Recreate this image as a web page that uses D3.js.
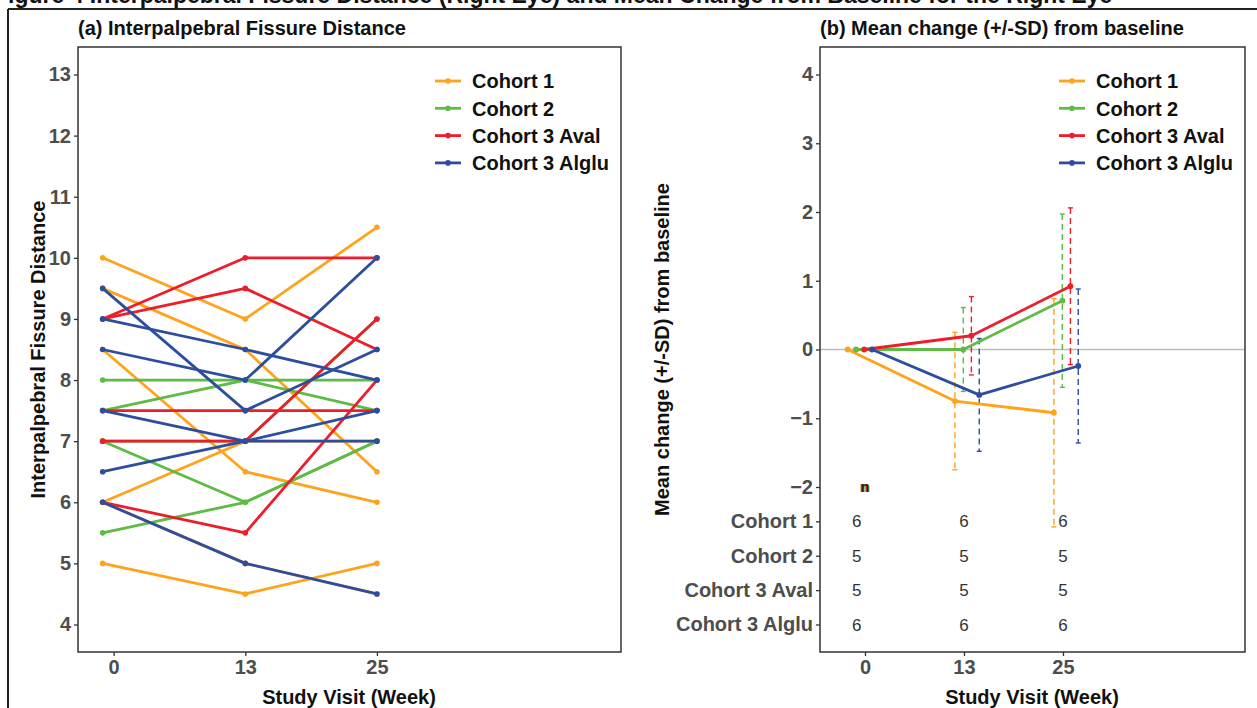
<!DOCTYPE html>
<html>
<head>
<meta charset="utf-8">
<script src="https://cdn.jsdelivr.net/npm/d3@7"></script>
<style>
  html, body { margin: 0; padding: 0; background: #fff; }
  svg { display: block; font-family: "Liberation Sans", Arial, sans-serif; }
</style>
</head>
<body>
<svg id="chart" width="1257" height="708"></svg>
<script>
// ---- data ----
const cohorts = ["Cohort 1", "Cohort 2", "Cohort 3 Aval", "Cohort 3 Alglu"];
const cohortColors = ["#FFA31A", "#5DBB46", "#EE1D2B", "#2D4E9E"];
const visitWeeks = [0, 13, 25];
const tickWeeks = [1, 13, 25];
const tickLabels = ["0", "13", "25"];

// individual subject values (baseline, week 13, week 25)
const cohort1Subjects = [[10, 9, 10.5], [9.5, 8.5, 6.5], [8.5, 6.5, 6], [6, 7, 7], [5, 4.5, 5], [6, 5, 4.5]];
const cohort2Subjects = [[8, 8, 8], [7.5, 8, 7.5], [7, 6, 7], [5.5, 6, 7], [7, 7, 9]];
const cohort3AvalSubjects = [[9, 10, 10], [9, 9.5, 8.5], [7.5, 7.5, 7.5], [7, 7, 9], [6, 5.5, 8]];
const cohort3AlgluSubjects = [[9.5, 7.5, 8.5], [9, 8.5, 8], [8.5, 8, 10], [7.5, 7, 7.5], [6.5, 7, 7], [6, 5, 4.5]];
const leftTicks = [4, 5, 6, 7, 8, 9, 10, 11, 12, 13];

// mean change and SD from baseline
const cohort1Mean = [0, -0.75, -0.92];
const cohort1SD = [0, 1.0, 1.66];
const cohort2Mean = [0, 0.0, 0.71];
const cohort2SD = [0, 0.61, 1.26];
const cohort3AvalMean = [0, 0.2, 0.92];
const cohort3AvalSD = [0, 0.57, 1.14];
const cohort3AlgluMean = [0, -0.66, -0.24];
const cohort3AlgluSD = [0, 0.82, 1.12];
const nCounts = [[6, 6, 6], [5, 5, 5], [5, 5, 5], [6, 6, 6]];
const nRowY = [-2.5, -3, -3.5, -4];
const rightTicks = [4, 3, 2, 1, 0, -1, -2];

const subjects = [cohort1Subjects, cohort2Subjects, cohort3AvalSubjects, cohort3AlgluSubjects];
const means = [cohort1Mean, cohort2Mean, cohort3AvalMean, cohort3AlgluMean];
const sds = [cohort1SD, cohort2SD, cohort3AvalSD, cohort3AlgluSD];

const svg = d3.select("#chart");
const tickColor = "#4D4D4D";
const frameColor = "#333";
const labelSize = 20;

// outer figure border and caption running off the top edge
svg.append("text").attr("x", -6).attr("y", 3)
  .attr("font-size", 23).attr("font-weight", "bold").attr("fill", "#111")
  .text("Figure 4 Interpalpebral Fissure Distance (Right Eye) and Mean Change from Baseline for the Right Eye");
svg.append("line").attr("x1", 8).attr("x2", 1257).attr("y1", 9).attr("y2", 9)
  .attr("stroke", "#222").attr("stroke-width", 2);
svg.append("line").attr("x1", 8).attr("x2", 8).attr("y1", 9).attr("y2", 708)
  .attr("stroke", "#222").attr("stroke-width", 2);

// ---------- panel (a) ----------
const A = { left: 78, right: 621, top: 47, bottom: 652 };
const xA = d3.scaleLinear().domain([-2.25, 47.25]).range([A.left, A.right]);
const yA = d3.scaleLinear().domain([3.55, 13.45]).range([A.bottom, A.top]);

const gA = svg.append("g");
gA.append("text").attr("x", 78).attr("y", 35).attr("font-size", labelSize).attr("font-weight", "bold")
  .attr("fill", "#111").text("(a) Interpalpebral Fissure Distance");

const axAy = gA.append("g").attr("transform", `translate(${A.left},0)`)
  .call(d3.axisLeft(yA).tickValues(leftTicks).tickSize(4).tickFormat(d3.format("d")));
const axAx = gA.append("g").attr("transform", `translate(0,${A.bottom})`)
  .call(d3.axisBottom(xA).tickValues(tickWeeks).tickSize(4).tickFormat((d, i) => tickLabels[i]));

const lineA = d3.line().x((d, i) => xA(visitWeeks[i])).y(d => yA(d));
subjects.forEach((grp, ci) => {
  grp.forEach(vals => {
    gA.append("path").attr("d", lineA(vals)).attr("fill", "none")
      .attr("stroke", cohortColors[ci]).attr("stroke-width", 2.8).attr("stroke-linejoin", "round");
    gA.selectAll(null).data(vals).enter().append("circle")
      .attr("cx", (d, i) => xA(visitWeeks[i])).attr("cy", d => yA(d)).attr("r", 2.8)
      .attr("fill", cohortColors[ci]);
  });
});
gA.append("rect").attr("x", A.left).attr("y", A.top).attr("width", A.right - A.left)
  .attr("height", A.bottom - A.top).attr("fill", "none").attr("stroke", frameColor).attr("stroke-width", 1.5);

gA.append("text").attr("transform", `translate(45,${(A.top + A.bottom) / 2}) rotate(-90)`)
  .attr("text-anchor", "middle").attr("font-size", labelSize).attr("font-weight", "bold").attr("fill", "#111")
  .text("Interpalpebral Fissure Distance");
gA.append("text").attr("x", 349).attr("y", 704).attr("text-anchor", "middle")
  .attr("font-size", labelSize).attr("font-weight", "bold").attr("fill", "#111").text("Study Visit (Week)");

// legend
function legend(g, x0, y0) {
  cohorts.forEach((c, i) => {
    const y = y0 + i * 27.3;
    g.append("line").attr("x1", x0).attr("x2", x0 + 26).attr("y1", y).attr("y2", y)
      .attr("stroke", cohortColors[i]).attr("stroke-width", 2.8);
    g.append("circle").attr("cx", x0 + 13).attr("cy", y).attr("r", 2.8).attr("fill", cohortColors[i]);
    g.append("text").attr("x", x0 + 37).attr("y", y).attr("dy", "0.36em")
      .attr("font-size", labelSize).attr("font-weight", "bold").attr("fill", "#111").text(c);
  });
}
legend(gA, 435, 81);

// ---------- panel (b) ----------
const B = { left: 820, right: 1245, top: 47, bottom: 652 };
const xB = d3.scaleLinear().domain([-4.45, 47.06]).range([B.left, B.right]);
const yB = d3.scaleLinear().domain([-4.4, 4.4]).range([B.bottom, B.top]);
const dodge = [-1.1, -0.08, 0.9, 1.85];

const gB = svg.append("g");
gB.append("text").attr("x", 820).attr("y", 35).attr("font-size", labelSize).attr("font-weight", "bold")
  .attr("fill", "#111").text("(b) Mean change (+/-SD) from baseline");

const rightTickVals = rightTicks.concat(nRowY);
const axBy = gB.append("g").attr("transform", `translate(${B.left},0)`)
  .call(d3.axisLeft(yB).tickValues(rightTickVals).tickSize(4)
    .tickFormat(d => { const k = nRowY.indexOf(d); return k >= 0 ? cohorts[k] : d3.format("d")(d); }));
const axBx = gB.append("g").attr("transform", `translate(0,${B.bottom})`)
  .call(d3.axisBottom(xB).tickValues(tickWeeks).tickSize(4).tickFormat((d, i) => tickLabels[i]));

// zero reference
gB.append("line").attr("x1", B.left).attr("x2", B.right).attr("y1", yB(0)).attr("y2", yB(0))
  .attr("stroke", "#BDBDBD").attr("stroke-width", 1.6);

// error bars (+/- SD)
means.forEach((m, ci) => {
  m.forEach((v, i) => {
    const x = xB(visitWeeks[i] + dodge[ci]);
    const y1 = yB(v + sds[ci][i]), y2 = yB(v - sds[ci][i]);
    gB.append("line").attr("x1", x).attr("x2", x).attr("y1", y1).attr("y2", y2)
      .attr("stroke", cohortColors[ci]).attr("stroke-width", 1.4).attr("stroke-dasharray", "6,4");
    [y1, y2].forEach(yy => gB.append("line").attr("x1", x - 2.5).attr("x2", x + 2.5)
      .attr("y1", yy).attr("y2", yy).attr("stroke", cohortColors[ci]).attr("stroke-width", 1.4));
  });
});

// mean lines
means.forEach((m, ci) => {
  const ln = d3.line().x((d, i) => xB(visitWeeks[i] + dodge[ci])).y(d => yB(d));
  gB.append("path").attr("d", ln(m)).attr("fill", "none").attr("stroke", cohortColors[ci])
    .attr("stroke-width", 2.8).attr("stroke-linejoin", "round");
  gB.selectAll(null).data(m).enter().append("circle")
    .attr("cx", (d, i) => xB(visitWeeks[i] + dodge[ci])).attr("cy", d => yB(d)).attr("r", 2.9)
    .attr("fill", cohortColors[ci]);
});

// n table
const nX = xB(tickWeeks[0]);
[["#EE1D2B", -1], ["#FFA31A", 1], ["#5DBB46", 0.6], ["#222", 0]].forEach(([c, off]) => {
  gB.append("text").attr("x", nX + off).attr("y", yB(-2)).attr("dy", "0.35em")
    .attr("text-anchor", "middle").attr("font-size", 14).attr("font-weight", "bold").attr("fill", c).text("n");
});
nCounts.forEach((row, ri) => {
  row.forEach((n, i) => {
    gB.append("text").attr("x", xB(visitWeeks[i])).attr("y", yB(nRowY[ri])).attr("dy", "0.36em")
      .attr("text-anchor", "middle").attr("font-size", 17).attr("fill", "#333").text(n);
  });
});

gB.append("rect").attr("x", B.left).attr("y", B.top).attr("width", B.right - B.left)
  .attr("height", B.bottom - B.top).attr("fill", "none").attr("stroke", frameColor).attr("stroke-width", 1.5);

gB.append("text").attr("transform", `translate(669,${(B.top + B.bottom) / 2}) rotate(-90)`)
  .attr("text-anchor", "middle").attr("font-size", labelSize).attr("font-weight", "bold").attr("fill", "#111")
  .text("Mean change (+/-SD) from baseline");
gB.append("text").attr("x", 1032).attr("y", 704).attr("text-anchor", "middle")
  .attr("font-size", labelSize).attr("font-weight", "bold").attr("fill", "#111").text("Study Visit (Week)");

legend(gB, 1059, 81);

// axis styling
[axAy, axAx, axBy, axBx].forEach(ax => {
  ax.select(".domain").remove();
  ax.selectAll(".tick line").attr("stroke", frameColor).attr("stroke-width", 1.3);
  ax.selectAll(".tick text").attr("font-size", labelSize).attr("font-weight", "bold").attr("fill", tickColor)
    .attr("font-family", "Liberation Sans, Arial, sans-serif");
});
[axAy, axBy].forEach(ax => ax.selectAll(".tick text").attr("x", -7));
[axAx, axBx].forEach(ax => ax.selectAll(".tick text").attr("y", 8));
</script>
</body>
</html>
